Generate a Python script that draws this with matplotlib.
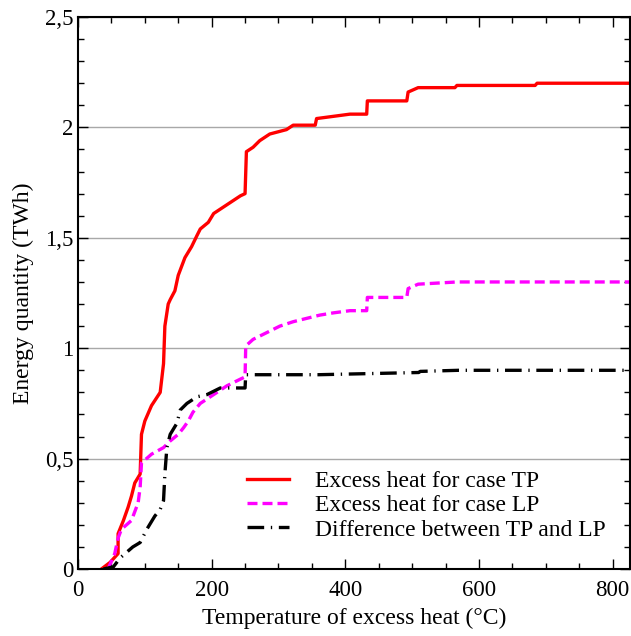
import matplotlib
matplotlib.use("Agg")
import matplotlib.pyplot as plt
from matplotlib.ticker import MultipleLocator, FuncFormatter

# data (temperature in degC, energy in TWh)
tp_temp = [35, 48, 60, 60, 68, 75, 80, 85, 93, 95, 100, 110, 123, 128, 130, 135, 138,
           145, 150, 160, 170, 178, 183, 195, 203, 213, 228, 243, 250, 252, 262, 272,
           287, 312, 322, 355, 357, 382, 407, 432, 433, 492, 494, 509, 564, 567, 684,
           687, 826]
tp_energy = [0, 0.03, 0.07, 0.16, 0.22, 0.28, 0.33, 0.39, 0.43, 0.61, 0.67, 0.74, 0.80,
             0.93, 1.10, 1.20, 1.22, 1.26, 1.33, 1.41, 1.46, 1.51, 1.54, 1.57, 1.61,
             1.63, 1.66, 1.69, 1.70, 1.89, 1.91, 1.94, 1.97, 1.99, 2.01, 2.01, 2.04,
             2.05, 2.06, 2.06, 2.12, 2.12, 2.16, 2.18, 2.18, 2.19, 2.19, 2.20, 2.20]

lp_temp = [45, 55, 60, 65, 80, 90, 93, 95, 110, 128, 138, 150, 158, 165, 172, 183, 198,
           208, 223, 243, 250, 251, 262, 282, 302, 322, 342, 362, 382, 407, 432, 433,
           492, 494, 509, 567, 826]
lp_energy = [0, 0.07, 0.14, 0.18, 0.22, 0.30, 0.37, 0.48, 0.52, 0.55, 0.58, 0.61, 0.64,
             0.67, 0.71, 0.75, 0.78, 0.80, 0.83, 0.86, 0.87, 1.01, 1.04, 1.07, 1.10,
             1.12, 1.135, 1.15, 1.16, 1.17, 1.17, 1.23, 1.23, 1.27, 1.29, 1.30, 1.30]

diff_temp = [38, 53, 63, 82, 93, 103, 115, 123, 128, 130, 133, 138, 148, 153, 163, 178,
             193, 213, 250, 251, 360, 510, 512, 570, 826]
diff_energy = [0, 0.01, 0.05, 0.10, 0.12, 0.18, 0.24, 0.27, 0.31, 0.43, 0.55, 0.61, 0.66,
               0.72, 0.75, 0.78, 0.79, 0.82, 0.82, 0.88, 0.88, 0.89, 0.895, 0.90, 0.90]

labels = ["Excess heat for case TP", "Excess heat for case LP",
          "Difference between TP and LP"]

plt.rcParams["font.family"] = ["Liberation Serif", "DejaVu Serif"]
plt.rcParams["font.size"] = 17

fig = plt.figure(figsize=(6.31, 6.36), dpi=100)
ax = fig.add_axes([0.1236, 0.1053, 0.8748, 0.868])

ax.plot(tp_temp, tp_energy, color="red", lw=2.4, label=labels[0])
ax.plot(lp_temp, lp_energy, color="magenta", lw=2.4, ls=(0, (3, 1.5)), label=labels[1])
ax.plot(diff_temp, diff_energy, color="black", lw=2.4, ls=(0, (5, 2, 0.4, 2)),
        label=labels[2])

ax.set_xlim(0, 826)
ax.set_ylim(0, 2.5)
ax.xaxis.set_major_locator(MultipleLocator(200))
ax.xaxis.set_minor_locator(MultipleLocator(50))
ax.yaxis.set_major_locator(MultipleLocator(0.5))
ax.yaxis.set_minor_locator(MultipleLocator(0.1))
ax.yaxis.set_major_formatter(FuncFormatter(lambda v, p: f"{v:g}".replace(".", ",")))

ax.tick_params(which="both", direction="in", top=True, right=True, labelsize=16.5)
ax.tick_params(which="major", length=7, width=1)
ax.tick_params(which="minor", length=4, width=1)
ax.tick_params(axis="x", pad=8)
for s in ax.spines.values():
    s.set_linewidth(1.5)

ax.grid(axis="y", which="major", color="#a8a8a8", lw=1)
ax.set_axisbelow(True)

ax.set_xlabel("Temperature of excess heat (°C)", fontsize=17, labelpad=5)
ax.set_ylabel("Energy quantity (TWh)", fontsize=17, labelpad=8)

ax.legend(loc="upper left", bbox_to_anchor=(0.284, 0.2), frameon=False, borderpad=0,
          handlelength=1.8, handletextpad=1.1, labelspacing=0.12, fontsize=17)

fig.savefig("out.png", dpi=100)
